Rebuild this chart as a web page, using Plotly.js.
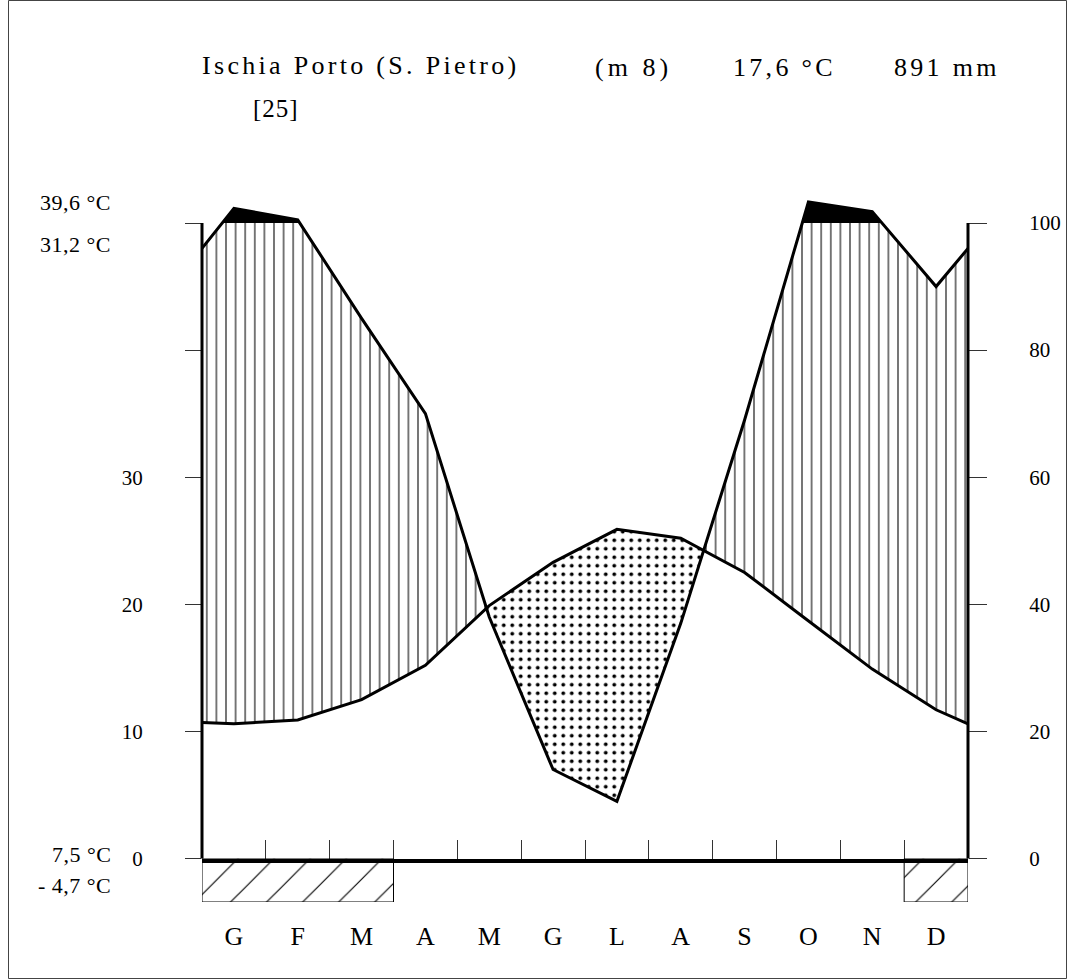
<!DOCTYPE html>
<html>
<head>
<meta charset="utf-8">
<script src="https://cdn.plot.ly/plotly-3.0.1.min.js"></script>
<style>
html, body { margin: 0; padding: 0; background: #fff; }
#chart { width: 1068px; height: 980px; }
</style>
</head>
<body>
<div id="chart"></div>
<script>
// ---------------- DATA ----------------
const months = ['G', 'F', 'M', 'A', 'M', 'G', 'L', 'A', 'S', 'O', 'N', 'D'];
const temperature = [10.6, 10.9, 12.5, 15.2, 19.9, 23.3, 25.9, 25.2, 22.5, 18.7, 14.9, 11.7]; // °C
const precipitation = [123, 105, 85, 70, 38, 14, 9, 37, 69, 133, 118, 90];                   // mm
const temperatureEdge = [10.7, 10.6];   // values drawn at the left / right borders
const precipitationEdge = [96, 96];
const frostMonths = [1, 1, 1, 0, 0, 0, 0, 0, 0, 0, 0, 1];

const stationName = 'Ischia Porto (S. Pietro)';
const altitudeText = '(m 8)';
const meanTempText = '17,6 °C';
const totalPrecipText = '891 mm';
const yearsText = '[25]';
const absMaxText = '39,6 °C';
const meanMaxText = '31,2 °C';
const meanMinText = '7,5 °C';
const absMinText = '- 4,7 °C';

const tempTickVals = [0, 10, 20, 30, 40, 50];
const tempTickText = ['0', '10', '20', '30', '', ''];
const precipTickVals = [0, 20, 40, 60, 80, 100];
const precipTickText = ['0', '20', '40', '60', '80', '100'];

// ---------------- LAYOUT GEOMETRY ----------------
const W = 1068, H = 980, ML = 202, MR = 100, MT = 196, MB = 78;
const PW = W - ML - MR, PH = H - MT - MB;
const ZERO_PX = 858.5, FIFTY_PX = 223;
const pxPerU = (ZERO_PX - FIFTY_PX) / 50;
const mainTop = (ZERO_PX - MT) / pxPerU;
const mainDomBottom = (H - MB - ZERO_PX) / PH;
const fx = px => (px - ML) / PW;
const fy = py => (H - MB - py) / PH;

// Walter-Lieth scale: 2 mm = 1 °C up to 100 mm, then compressed 1/10
const toU = p => (p <= 100 ? p / 2 : 50 + (p - 100) / 20);

// ---------------- BUILD CURVES ----------------
const xs = [0].concat(months.map((_, i) => i + 0.5), [12]);
const T = [temperatureEdge[0]].concat(temperature, [temperatureEdge[1]]);
const P = [toU(precipitationEdge[0])].concat(precipitation.map(toU), [toU(precipitationEdge[1])]);

const X = [], TT = [], PP = [];
for (let i = 0; i < xs.length - 1; i++) {
  X.push(xs[i]); TT.push(T[i]); PP.push(P[i]);
  const ts = [];
  const d0 = P[i] - T[i], d1 = P[i + 1] - T[i + 1];
  if (d0 * d1 < 0) ts.push(d0 / (d0 - d1));
  const e0 = P[i] - 50, e1 = P[i + 1] - 50;
  if (e0 * e1 < 0) ts.push(e0 / (e0 - e1));
  ts.sort((a, b) => a - b);
  ts.forEach(t => {
    X.push(xs[i] + t * (xs[i + 1] - xs[i]));
    TT.push(T[i] + t * (T[i + 1] - T[i]));
    PP.push(P[i] + t * (P[i + 1] - P[i]));
  });
}
X.push(xs[xs.length - 1]); TT.push(T[T.length - 1]); PP.push(P[P.length - 1]);

const humid = PP.map((p, i) => Math.max(Math.min(p, 50), TT[i]));
const dry = PP.map((p, i) => Math.min(p, TT[i]));
const level100 = X.map(() => toU(100));
const above100 = PP.map(p => Math.max(p, 50));

const base = { mode: 'lines', hoverinfo: 'skip', showlegend: false, xaxis: 'x', yaxis: 'y' };
const traces = [
  Object.assign({}, base, { x: X, y: TT, line: { width: 0 } }),
  Object.assign({}, base, { x: X, y: humid, line: { width: 0 }, fill: 'tonexty', fillcolor: 'rgba(0,0,0,0)',
    fillpattern: { shape: '|', fgcolor: '#000', bgcolor: 'rgba(0,0,0,0)', size: 9.6, solidity: 0.11 } }),
  Object.assign({}, base, { x: X, y: TT, line: { width: 0 } }),
  Object.assign({}, base, { x: X, y: dry, line: { width: 0 }, fill: 'tonexty', fillcolor: 'rgba(0,0,0,0)',
    fillpattern: { shape: '.', fgcolor: '#000', bgcolor: 'rgba(0,0,0,0)', size: 8.5, solidity: 0.16 } }),
  Object.assign({}, base, { x: X, y: level100, line: { width: 0 } }),
  Object.assign({}, base, { x: X, y: above100, line: { width: 0 }, fill: 'tonexty', fillcolor: '#000' }),
  Object.assign({}, base, { x: X, y: TT, line: { color: '#000', width: 3 } }),
  Object.assign({}, base, { x: X, y: PP, line: { color: '#000', width: 3 } }),
  // carrier for the precipitation axis (mm), draws nothing
  { x: [0, 12], y: [0, 0], xaxis: 'x', yaxis: 'y2', mode: 'lines', line: { width: 0 }, hoverinfo: 'skip', showlegend: false }
];

// frost boxes
let runStart = null;
for (let i = 0; i <= frostMonths.length; i++) {
  const on = i < frostMonths.length && frostMonths[i] === 1;
  if (on && runStart === null) runStart = i;
  if (!on && runStart !== null) {
    traces.push({
      x: [runStart, i, i, runStart, runStart], y: [0, 0, 1, 1, 0],
      xaxis: 'x2', yaxis: 'y3', mode: 'lines', hoverinfo: 'skip', showlegend: false,
      line: { color: '#000', width: 1 }, fill: 'toself', fillcolor: 'rgba(0,0,0,0)',
      fillpattern: { shape: '/', fgcolor: '#000', bgcolor: 'rgba(0,0,0,0)', size: 25.5, solidity: 0.045 }
    });
    runStart = null;
  }
}

const serif = 'Liberation Serif, Times New Roman, serif';
function ann(text, px, baseline, size, anchor, spacing) {
  return {
    xref: 'paper', yref: 'paper', x: fx(px), y: fy(baseline - 0.34 * size),
    xanchor: anchor, yanchor: 'middle', showarrow: false,
    text: '<span style="letter-spacing:' + spacing + 'px">' + text + '</span>',
    font: { family: serif, size: size, color: '#000' }
  };
}

const annotations = [
  ann(stationName, 200, 74, 26, 'left', 3.3),
  ann(altitudeText, 593, 76, 26, 'left', 4),
  ann(meanTempText, 731, 76, 26, 'left', 3.3),
  ann(totalPrecipText, 892, 76, 26, 'left', 3.3),
  ann(yearsText, 251, 116.5, 25, 'left', 1),
  ann(absMaxText, 113, 210, 22, 'right', 0.5),
  ann(meanMaxText, 113, 251.5, 22, 'right', 0.5),
  ann(meanMinText, 113, 862, 22, 'right', 0.5),
  ann(absMinText, 113, 892.5, 22, 'right', 0.5)
];

const shapes = [
  { type: 'line', xref: 'paper', yref: 'paper', x0: 0, x1: 0, y0: fy(ZERO_PX), y1: fy(FIFTY_PX), line: { color: '#000', width: 3 } },
  { type: 'line', xref: 'paper', yref: 'paper', x0: 1, x1: 1, y0: fy(ZERO_PX), y1: fy(FIFTY_PX), line: { color: '#000', width: 3 } },
  { type: 'rect', xref: 'paper', yref: 'paper', x0: fx(8.5), x1: fx(1066.5), y0: fy(978.5), y1: fy(0.5),
    line: { color: '#444', width: 1 }, fillcolor: 'rgba(0,0,0,0)' }
];

const boundaries = months.slice(1).map((_, i) => i + 1);

const layout = {
  width: W, height: H,
  margin: { l: ML, r: MR, t: MT, b: MB, pad: 0 },
  paper_bgcolor: '#fff', plot_bgcolor: 'rgba(0,0,0,0)',
  showlegend: false,
  font: { family: serif, color: '#000' },
  xaxis: {
    domain: [0, 1], range: [0, 12], anchor: 'y',
    showgrid: false, zeroline: false, showline: true, linecolor: '#000', linewidth: 4,
    ticks: 'inside', tickvals: boundaries, ticklen: 19, tickwidth: 1, tickcolor: '#333',
    showticklabels: false
  },
  yaxis: {
    domain: [mainDomBottom, 1], range: [0, mainTop], anchor: 'x', side: 'left',
    showgrid: false, zeroline: false, showline: false,
    ticks: 'outside', tickvals: tempTickVals, ticktext: tempTickText, ticklen: 16, tickwidth: 1, tickcolor: '#333',
    tickfont: { family: serif, size: 21, color: '#000' }, ticklabelstandoff: 38
  },
  yaxis2: {
    overlaying: 'y', side: 'right', anchor: 'x', range: [0, mainTop * 2],
    showgrid: false, zeroline: false, showline: false,
    ticks: 'outside', tickvals: precipTickVals, ticktext: precipTickText, ticklen: 18, tickwidth: 1, tickcolor: '#333',
    tickfont: { family: serif, size: 21, color: '#000' }, ticklabelstandoff: 38
  },
  xaxis2: {
    domain: [0, 1], range: [0, 12], anchor: 'y3', matches: 'x',
    showgrid: false, zeroline: false, showline: false, ticks: '',
    tickvals: months.map((_, i) => i + 0.5), ticktext: months,
    tickfont: { family: serif, size: 26, color: '#000' }, ticklabelstandoff: 16
  },
  yaxis3: {
    domain: [0, mainDomBottom], range: [0, 1], anchor: 'x2',
    showgrid: false, zeroline: false, showline: false, showticklabels: false, ticks: ''
  },
  shapes: shapes,
  annotations: annotations
};

Plotly.newPlot('chart', traces, layout, { staticPlot: true, displayModeBar: false });
</script>
</body>
</html>
